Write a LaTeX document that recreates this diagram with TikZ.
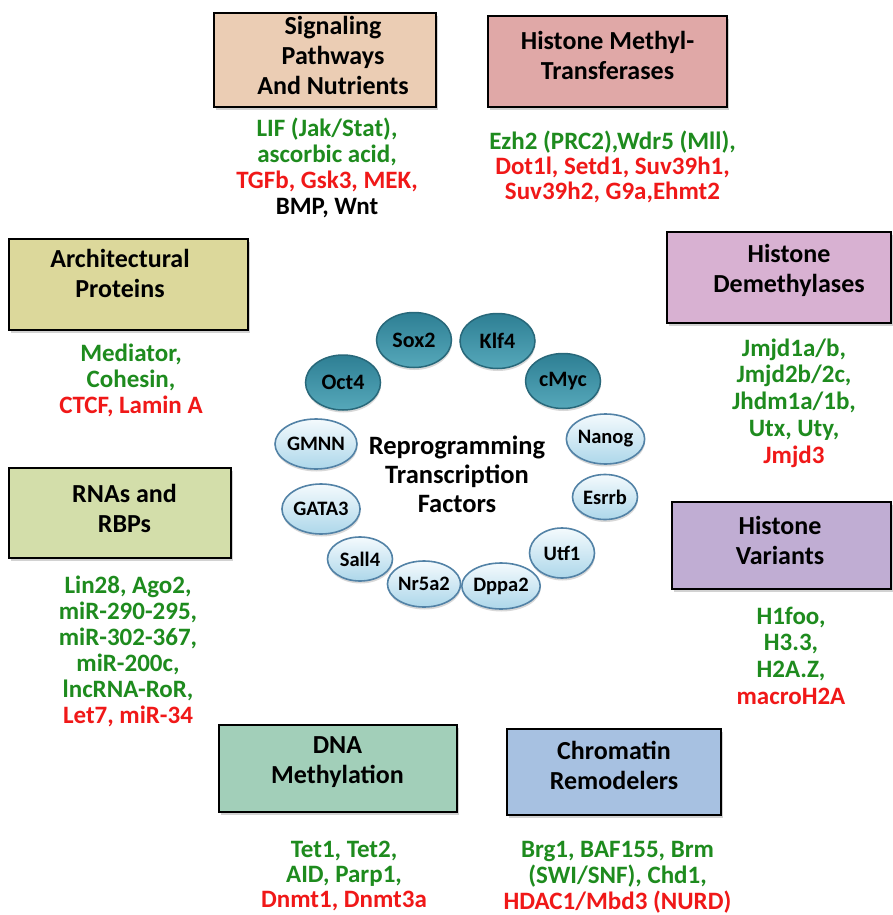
\documentclass[tikz,border=0pt]{standalone}
\usepackage{fontspec}
\setmainfont{Carlito}
\usepackage{tikz}
\usetikzlibrary{shapes.geometric,shadows,positioning}
\definecolor{sigfill}{HTML}{EBCDB4}
\definecolor{hmtfill}{HTML}{E0A8A7}
\definecolor{archfill}{HTML}{DCD89B}
\definecolor{hdmfill}{HTML}{D8B1D2}
\definecolor{rnafill}{HTML}{D3DEAA}
\definecolor{hvfill}{HTML}{C0ADD3}
\definecolor{dnafill}{HTML}{A2CFB9}
\definecolor{crfill}{HTML}{A7C1E1}
\definecolor{itemgreen}{HTML}{1E8B1E}
\definecolor{itemred}{HTML}{F01818}
\definecolor{tealtop}{HTML}{2E7F94}
\definecolor{tealbot}{HTML}{56A8BA}
\definecolor{tealedge}{HTML}{28687A}
\definecolor{paletop}{HTML}{F4FAFD}
\definecolor{palebot}{HTML}{ADD7EA}
\definecolor{paleedge}{HTML}{5282A6}
\tikzset{
  catbox/.style={draw=black,line width=1.4pt,inner sep=0pt,drop shadow={shadow xshift=1.5pt,shadow yshift=-3pt,opacity=0.35}},
  cattitle/.style={align=center,inner sep=0pt,font=\fontsize{26}{30}\selectfont\bfseries},
  itemlist/.style={align=center,inner sep=0pt,anchor=north,text=itemgreen,font=\fontsize{25}{26}\selectfont\bfseries},
  tfcore/.style={ellipse,draw=tealedge,line width=1.5pt,top color=tealtop,bottom color=tealbot,minimum width=75pt,minimum height=55pt,inner sep=0pt,font=\fontsize{22}{22}\selectfont\bfseries,drop shadow={shadow xshift=0.5pt,shadow yshift=-2.5pt,opacity=0.3}},
  tfextra/.style={ellipse,draw=paleedge,line width=1.6pt,top color=paletop,bottom color=palebot,minimum width=65pt,minimum height=50pt,inner sep=0pt,font=\fontsize{20.5}{20.5}\selectfont\bfseries,drop shadow={shadow xshift=0.5pt,shadow yshift=-2.5pt,opacity=0.3}},
  hubtext/.style={align=center,inner sep=0pt,font=\fontsize{26.5}{29}\selectfont\bfseries}
}
\begin{document}
\begin{tikzpicture}[x=1pt,y=1pt]
  \useasboundingbox (0,0) rectangle (892,-915);
  \fill[white] (0,0) rectangle (892,-915);

  \node[catbox,fill=sigfill,minimum width=222pt,minimum height=94pt] (sigbox) at (325,-60) {};
  \node[catbox,fill=hmtfill,minimum width=239pt,minimum height=91pt] (hmtbox) at (607.5,-61.5) {};
  \node[catbox,fill=archfill,minimum width=239pt,minimum height=91pt] (archbox) at (128.5,-284.5) {};
  \node[catbox,fill=hdmfill,minimum width=224pt,minimum height=91pt] (hdmbox) at (779,-277.5) {};
  \node[catbox,fill=rnafill,minimum width=222pt,minimum height=90pt] (rnabox) at (120,-513) {};
  \node[catbox,fill=hvfill,minimum width=219pt,minimum height=87pt] (hvbox) at (781.5,-545.5) {};
  \node[catbox,fill=dnafill,minimum width=238pt,minimum height=87pt] (dnabox) at (338,-768.5) {};
  \node[catbox,fill=crfill,minimum width=214pt,minimum height=86pt] (crbox) at (614,-772) {};

  \node[cattitle] (sigtitle) at (333,-55) {Signaling\\Pathways\\And Nutrients};
  \node[cattitle] (hmttitle) at (607.5,-55) {Histone Methyl-\\Transferases};
  \node[cattitle] (archtitle) at (120,-273) {Architectural\\Proteins};
  \node[cattitle] (hdmtitle) at (789,-270.5) {Histone\\Demethylases};
  \node[cattitle] (rnatitle) at (124.5,-508) {RNAs and\\RBPs};
  \node[cattitle] (hvtitle) at (780,-540.5) {Histone\\Variants};
  \node[cattitle] (dnatitle) at (337.5,-762) {DNA\\Methylation};
  \node[cattitle] (crtitle) at (614,-765) {Chromatin\\Remodelers};

  \node[itemlist] (siglist) at (327,-118) {LIF (Jak/Stat),\\ascorbic acid,\\\textcolor{itemred}{TGFb, Gsk3, MEK,}\\\textcolor{black}{BMP, Wnt}};
  \node[itemlist,font=\fontsize{25}{25}\selectfont\bfseries] (hmtlist) at (612.5,-131) {Ezh2 (PRC2),Wdr5 (Mll),\\\textcolor{itemred}{Dot1l, Setd1, Suv39h1,}\\\textcolor{itemred}{Suv39h2, G9a,Ehmt2}};
  \node[itemlist] (archlist) at (131,-343.5) {Mediator,\\Cohesin,\\\textcolor{itemred}{CTCF, Lamin A}};
  \node[itemlist,font=\fontsize{25}{26.7}\selectfont\bfseries] (hdmlist) at (794,-338.5) {Jmjd1a/b,\\Jmjd2b/2c,\\Jhdm1a/1b,\\Utx, Uty,\\\textcolor{itemred}{Jmjd3}};
  \node[itemlist] (rnalist) at (128,-575.5) {Lin28, Ago2,\\miR-290-295,\\miR-302-367,\\miR-200c,\\lncRNA-RoR,\\\textcolor{itemred}{Let7, miR-34}};
  \node[itemlist,font=\fontsize{25}{26.7}\selectfont\bfseries] (hvlist) at (791,-606.5) {H1foo,\\H3.3,\\H2A.Z,\\\textcolor{itemred}{macroH2A}};
  \node[itemlist,font=\fontsize{25}{25}\selectfont\bfseries] (dnalist) at (344,-840.5) {Tet1, Tet2,\\AID, Parp1,\\\textcolor{itemred}{Dnmt1, Dnmt3a}};
  \node[itemlist] (crlist) at (617.5,-841.5) {Brg1, BAF155, Brm\\(SWI/SNF), Chd1,\\\textcolor{itemred}{HDAC1/Mbd3 (NURD)}};

  \node[tfcore] (sox) at (414,-340) {Sox2};
  \node[tfcore] (klf) at (497.5,-341) {Klf4};
  \node[tfcore] (oct) at (343,-382.5) {Oct4};
  \node[tfcore] (myc) at (563,-381) {cMyc};
  \node[tfextra] (gmnn) at (316,-444) {GMNN};
  \node[tfextra] (nanog) at (605.5,-439) {Nanog};
  \node[tfextra,minimum height=45pt] (esrrb) at (605,-497) {Esrrb};
  \node[tfextra] (gata) at (321,-509) {GATA3};
  \node[tfextra,minimum height=44pt] (sall) at (360,-559) {Sall4};
  \node[tfextra,minimum height=46pt] (nr) at (424,-584) {Nr5a2};
  \node[tfextra,minimum height=46pt] (dppa) at (501,-586) {Dppa2};
  \node[tfextra] (utf) at (562,-553) {Utf1};
  \node[hubtext] (hub) at (457,-474) {Reprogramming\\Transcription\\Factors};
\end{tikzpicture}
\end{document}
